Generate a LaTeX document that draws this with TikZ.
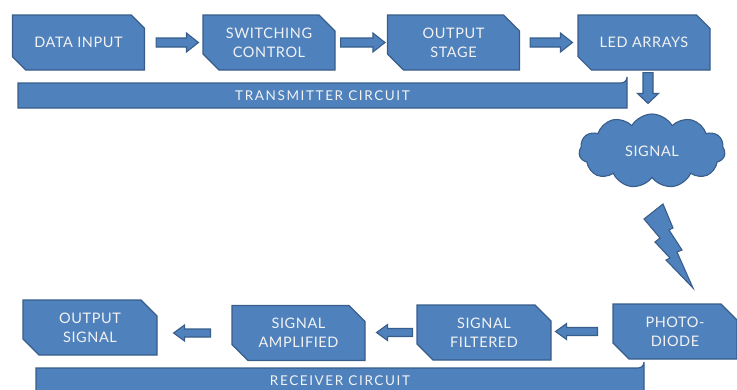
\documentclass[tikz,border=0pt]{standalone}
\usepackage{fontspec}
\setmainfont{Lato}
\newfontfamily\boxfont[LetterSpace=4]{Lato}
\newfontfamily\barfont[LetterSpace=12]{Lato}
\usetikzlibrary{shapes.misc,shapes.symbols,calc}
\definecolor{boxfill}{HTML}{4F81BD}
\definecolor{boxline}{HTML}{385D8A}
\definecolor{txt}{HTML}{F2F2F2}
\begin{document}
\begin{tikzpicture}[x=1pt,y=-1pt,
  shapeline/.style={fill=boxfill, draw=boxline, line width=1.1pt, line join=miter},
  box/.style={shapeline, chamfered rectangle, chamfered rectangle corners={north east,south west},
    chamfered rectangle sep=8pt, text=txt, font=\boxfont\fontsize{14.5}{19}\selectfont, align=center,
    inner sep=0pt, minimum width=#1, minimum height=55pt},
  box/.default=132pt,
  barlabel/.style={text=txt, font=\barfont\fontsize{13.5}{15}\selectfont, inner sep=0pt},
  rarrow/.style={shapeline, to path={let \p1=(\tikztostart), \p2=(\tikztotarget) in
    (\x1,\y1+4.5pt) -- (\x2-12pt,\y1+4.5pt) -- (\x2-12pt,\y1+9.5pt) -- (\x2,\y1)
    -- (\x2-12pt,\y1-9.5pt) -- (\x2-12pt,\y1-4.5pt) -- (\x1,\y1-4.5pt) -- cycle}},
  larrow/.style={shapeline, to path={let \p1=(\tikztostart), \p2=(\tikztotarget) in
    (\x1,\y1+4pt) -- (\x2+11pt,\y1+4pt) -- (\x2+11pt,\y1+8pt) -- (\x2,\y1)
    -- (\x2+11pt,\y1-8pt) -- (\x2+11pt,\y1-4pt) -- (\x1,\y1-4pt) -- cycle}},
  darrow/.style={shapeline, to path={let \p1=(\tikztostart), \p2=(\tikztotarget) in
    (\x1-5pt,\y1) -- (\x1-5pt,\y2+10pt) -- (\x1-10.5pt,\y2+10pt) -- (\x1,\y2)
    -- (\x1+10.5pt,\y2+10pt) -- (\x1+5pt,\y2+10pt) -- (\x1+5pt,\y1) -- cycle}}
]
\useasboundingbox (0,0) rectangle (737,389);

% transmitter row
\node[box] (di)  at (78.5,42.5) {DATA INPUT};
\node[box] (sc)  at (269,42.5)  {SWITCHING\\CONTROL};
\node[box] (os)  at (453.5,42.5) {OUTPUT\\STAGE};
\node[box] (led) at (644,42.5)  {LED ARRAYS};

\draw[rarrow] ([xshift=11pt]di.east) to ([xshift=-4pt]sc.west);
\draw[rarrow] ([xshift=5pt]sc.east) to ([xshift=-2pt]os.west);
\draw[rarrow] ([xshift=10pt]os.east) to ([xshift=-5pt]led.west);

% transmitter bar
\path[shapeline] (18,108) -- (18,83) -- (621,83) arc[start angle=90, end angle=0, radius=6] -- (627,108) -- cycle;
\node[barlabel] (txl) at (322.5,96) {TRANSMITTER CIRCUIT};

% cloud
\node[shapeline, cloud, cloud puffs=11, cloud puff arc=120, aspect=2.1,
  minimum width=146pt, minimum height=74pt, inner sep=0pt, text=txt,
  font=\boxfont\fontsize{14.5}{19}\selectfont] (sig) at (652,151) {SIGNAL};
\draw[darrow] ([xshift=4pt,yshift=-2pt]led.south) to ([yshift=10pt]sig.north);

% lightning bolt
\path[shapeline] (644,219) -- (663,204) -- (673,228) -- (669,230) -- (682,250) -- (677,252)
  -- (693,288) -- (666,260) -- (670,258) -- (655,242) -- (660,238) -- cycle;

% receiver row
\node[box=124pt] (pd) at (675,331.5) {PHOTO-\\DIODE};
\node[box=134pt] (sf) at (484,332.5) {SIGNAL\\FILTERED};
\node[box=133pt] (sa) at (298.5,333) {SIGNAL\\AMPLIFIED};
\node[box=134pt] (osg) at (90,327.5) {OUTPUT\\SIGNAL};

\draw[larrow] ([xshift=-15pt]pd.west) to ([xshift=4pt]sf.east);
\draw[larrow] ([xshift=-4pt]sf.west) to ([xshift=11pt]sa.east);
\draw[larrow] ([xshift=-21pt]sa.west) to ([xshift=16pt]osg.east);

% receiver bar
\path[shapeline] (36,400) -- (36,368) -- (638,368) arc[start angle=90, end angle=0, radius=6] -- (644,400) -- cycle;
\node[barlabel] (rxl) at (340,381) {RECEIVER CIRCUIT};
\end{tikzpicture}
\end{document}
